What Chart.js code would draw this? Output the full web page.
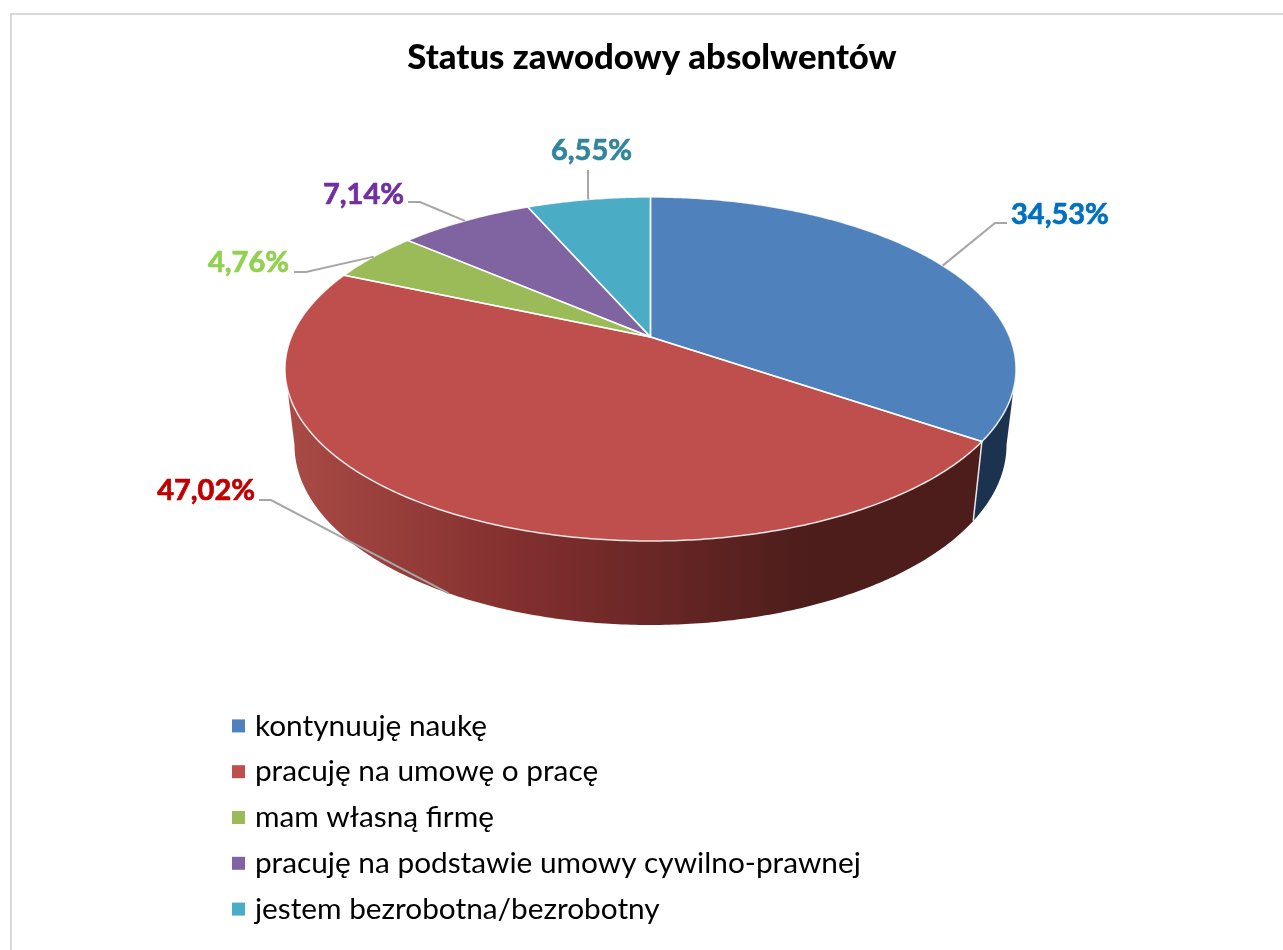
<!DOCTYPE html>
<html lang="pl">
<head>
<meta charset="utf-8">
<title>Status zawodowy absolwentów</title>
<script src="https://cdn.jsdelivr.net/npm/chart.js@4"></script>
<style>
html,body{margin:0;padding:0;background:#fff;overflow:hidden}
canvas{display:block}
</style>
</head>
<body>
<canvas id="c" width="1283" height="950"></canvas>
<script>
const chartTitle = 'Status zawodowy absolwentów';
const categories = ['kontynuuję naukę','pracuję na umowę o pracę','mam własną firmę','pracuję na podstawie umowy cywilno-prawnej','jestem bezrobotna/bezrobotny'];
const values = [34.53,47.02,4.76,7.14,6.55];
const sliceColors = ['#4F81BD','#BE4F4C','#9BBB59','#8064A2','#4BACC6'];
const labelColors = ['#0070C0','#C00000','#92D050','#7030A0','#31859C'];

// Geometry of the tilted disc (a perspective view of a flat circle)
const topRim = {cx:650.5, cy:369, a:365.5, b:172};
const lowRim = {cx:650.5, cy:445, a:356, b:180};
const persp = -0.186;

// Leader-line layout: elbow, line end, text anchor, side rim the leader touches
const leaders = [
  {rim:topRim, elbow:[995,223], end:[1007,223], text:[1011,215], align:'left'},
  {rim:lowRim, elbow:[271,500], end:[259,500], text:[255,491], align:'right'},
  {rim:topRim, elbow:[306,272], end:[294,272], text:[289,263], align:'right'},
  {rim:topRim, elbow:[420,202], end:[408,202], text:[404,195], align:'right'},
  {rim:topRim, elbow:[588,197], end:[588,170], text:[591.5,151], align:'center'}
];

function project(angle, rim){
  const u = Math.cos(angle), v = Math.sin(angle);
  const d = 1 + persp*v;
  return [rim.cx + rim.a*u*Math.sqrt(1-persp*persp)/d, rim.cy + rim.b*(v+persp)/d];
}
function apex(){ return [topRim.cx, topRim.cy + topRim.b*persp]; }
function rimPath(ctx, s, e, rim, first){
  const n = Math.max(2, Math.ceil(Math.abs(e-s)/0.01));
  for(let i=0;i<=n;i++){
    const p = project(s+(e-s)*i/n, rim);
    if(i===0 && first) ctx.moveTo(p[0],p[1]); else ctx.lineTo(p[0],p[1]);
  }
}
// Side wall: only the part of a slice between the two silhouette points faces the viewer
function wall(ctx, start, end, fill){
  const sil = Math.asin(-persp);
  const s = Math.max(start, sil), e = Math.min(end, Math.PI - sil);
  if(e <= s) return;
  ctx.beginPath();
  rimPath(ctx,s,e,topRim,true);
  rimPath(ctx,e,s,lowRim,false);
  ctx.closePath();
  ctx.fillStyle = fill;
  ctx.fill();
}

const discPlugin = {
  id:'disc',
  beforeDraw(chart){
    const ctx = chart.ctx;
    ctx.save();
    ctx.fillStyle='#fff';
    ctx.fillRect(0,0,chart.width,chart.height);
    ctx.strokeStyle='#D9D9D9'; ctx.lineWidth=2;
    ctx.beginPath(); ctx.moveTo(11,chart.height); ctx.lineTo(11,14); ctx.lineTo(chart.width,14); ctx.stroke();
    ctx.restore();
  },
  afterLayout(chart){
    const l = chart.legend;
    l.left = 221; l.top = 695; l.right = chart.width; l.bottom = chart.height;
    l.width = l.right - l.left; l.height = l.bottom - l.top;
  },
  beforeDatasetDraw(chart){
    const ctx = chart.ctx, arcs = chart.getDatasetMeta(0).data;
    ctx.save();
    const grad = ctx.createLinearGradient(290,0,810,0);
    grad.addColorStop(0,'#A94A45');
    grad.addColorStop(0.45,'#812F2E');
    grad.addColorStop(1,'#4C1D1B');
    const wallFill = ['#1C3350',grad,'#5D7030','#4C3C61','#2D6776'];
    arcs.forEach((a,i)=>wall(ctx,a.startAngle,a.endAngle,wallFill[i]));
    // edge between the two visible wall sections
    const a0 = arcs[0].endAngle;
    const p1 = project(a0,topRim), p2 = project(a0,lowRim);
    ctx.strokeStyle='#E8E8E8'; ctx.lineWidth=1.5;
    ctx.beginPath(); ctx.moveTo(p1[0],p1[1]); ctx.lineTo(p2[0],p2[1]); ctx.stroke();
    // top face
    const c = apex();
    arcs.forEach((a,i)=>{
      ctx.beginPath();
      ctx.moveTo(c[0],c[1]);
      rimPath(ctx,a.startAngle,a.endAngle,topRim,false);
      ctx.closePath();
      ctx.fillStyle = sliceColors[i];
      ctx.fill();
    });
    arcs.forEach(a=>{
      ctx.beginPath();
      ctx.moveTo(c[0],c[1]);
      rimPath(ctx,a.startAngle,a.endAngle,topRim,false);
      ctx.closePath();
      ctx.strokeStyle='rgba(255,255,255,0.85)';
      ctx.lineWidth=1.5; ctx.lineJoin='round';
      ctx.stroke();
    });
    ctx.restore();
    return false;
  },
  afterDatasetsDraw(chart){
    const ctx = chart.ctx, arcs = chart.getDatasetMeta(0).data;
    ctx.save();
    arcs.forEach((a,i)=>{
      const L = leaders[i];
      const p = project((a.startAngle+a.endAngle)/2, L.rim);
      ctx.strokeStyle='#A6A6A6'; ctx.lineWidth=2;
      ctx.beginPath(); ctx.moveTo(p[0],p[1]);
      ctx.lineTo(L.elbow[0],L.elbow[1]); ctx.lineTo(L.end[0],L.end[1]); ctx.stroke();
      ctx.fillStyle = labelColors[i];
      ctx.strokeStyle = labelColors[i]; ctx.lineWidth = 0.7;
      ctx.font = 'bold 29px Lato';
      ctx.textAlign = L.align; ctx.textBaseline='middle';
      const txt = values[i].toFixed(2).replace('.',',')+'%';
      ctx.fillText(txt, L.text[0], L.text[1]);
      ctx.strokeText(txt, L.text[0], L.text[1]);
    });
    ctx.restore();
  }
};

new Chart(document.getElementById('c'),{
  type:'pie',
  data:{labels:categories,datasets:[{data:values,backgroundColor:sliceColors,borderColor:'#fff',borderWidth:1.5}]},
  options:{
    responsive:false,
    animation:false,
    devicePixelRatio:1,
    layout:{padding:{left:21}},
    plugins:{
      tooltip:{enabled:false},
      title:{display:true,text:chartTitle,color:'#000',font:{family:'Lato',size:34.7,weight:'900'},padding:{top:37,bottom:10}},
      legend:{
        display:true,position:'left',align:'start',maxWidth:1000,
        labels:{
          padding:16,boxWidth:3,boxHeight:3,color:'#000',
          font:{family:'Lato',size:29.8},
          generateLabels:()=>categories.map((t,i)=>({text:t,fillStyle:sliceColors[i],strokeStyle:sliceColors[i],lineWidth:10,index:i,hidden:false}))
        }
      }
    }
  },
  plugins:[discPlugin]
});
</script>
</body>
</html>
